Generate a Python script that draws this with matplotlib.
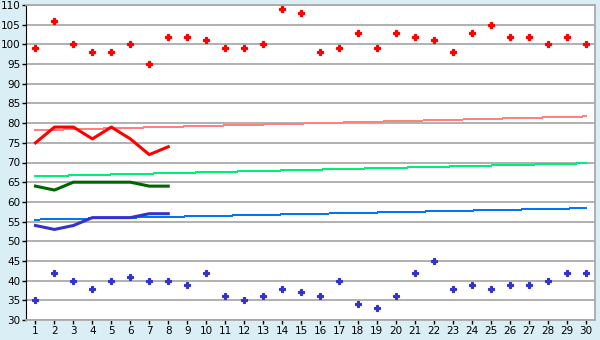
import matplotlib
matplotlib.use("Agg")
import matplotlib.pyplot as plt

days = list(range(1, 31))

high_points = [99, 106, 100, 98, 98, 100, 95, 102, 102, 101,
               99, 99, 100, 109, 108, 98, 99, 103, 99, 103,
               102, 101, 98, 103, 105, 102, 102, 100, 102, 100]
low_points = [35, 42, 40, 38, 40, 41, 40, 40, 39, 42,
              36, 35, 36, 38, 37, 36, 40, 34, 33, 36,
              42, 45, 38, 39, 38, 39, 39, 40, 42, 42]

week = list(range(1, 9))
red_line = [75, 79, 79, 76, 79, 76, 72, 74]
green_line = [64, 63, 65, 65, 65, 65, 64, 64]
blue_line = [54, 53, 54, 56, 56, 56, 57, 57]

# trend lines: value at day 1 and day 30
trend_x = [1, 30]
red_trend = [78.2, 81.7]
green_trend = [66.5, 69.8]
blue_trend = [55.5, 58.4]

bg = "#daeff5"
grid_col = "#aaaaaa"

fig = plt.figure(figsize=(6, 3.4), dpi=100, facecolor=bg)
ax = fig.add_axes([26 / 600, 20 / 340, 569 / 600, 315 / 340])
ax.set_facecolor("white")

ax.plot(trend_x, red_trend, color="#ff8080", lw=0.72, antialiased=False)
ax.plot(trend_x, green_trend, color="#00ee77", lw=0.72, antialiased=False)
ax.plot(trend_x, blue_trend, color="#0077ee", lw=0.72, antialiased=False)

ax.plot(week, red_line, color="#ff0000", lw=2.2)
ax.plot(week, green_line, color="#006600", lw=2.2)
ax.plot(week, blue_line, color="#3333cc", lw=2.2)

ax.plot(days, high_points, ls="none", marker="P", ms=5, color="#ff0000", mew=0.9)
ax.plot(days, low_points, ls="none", marker="P", ms=4.5, color="#3333cc", mew=0.8)

ax.set_xlim(0.5, 30.5)
ax.set_ylim(30, 110)
ax.set_xticks(days)
ax.set_yticks(range(30, 111, 5))
ax.yaxis.grid(True, color=grid_col, lw=1.3)
ax.set_axisbelow(True)

for side in ("top", "right", "bottom"):
    ax.spines[side].set_color(grid_col)
    ax.spines[side].set_linewidth(1.3)
ax.spines["left"].set_color("black")
ax.tick_params(axis="both", length=3, width=1, color="black", labelsize=7.5, pad=1)

fig.savefig("out.png", dpi=100, facecolor=bg)
